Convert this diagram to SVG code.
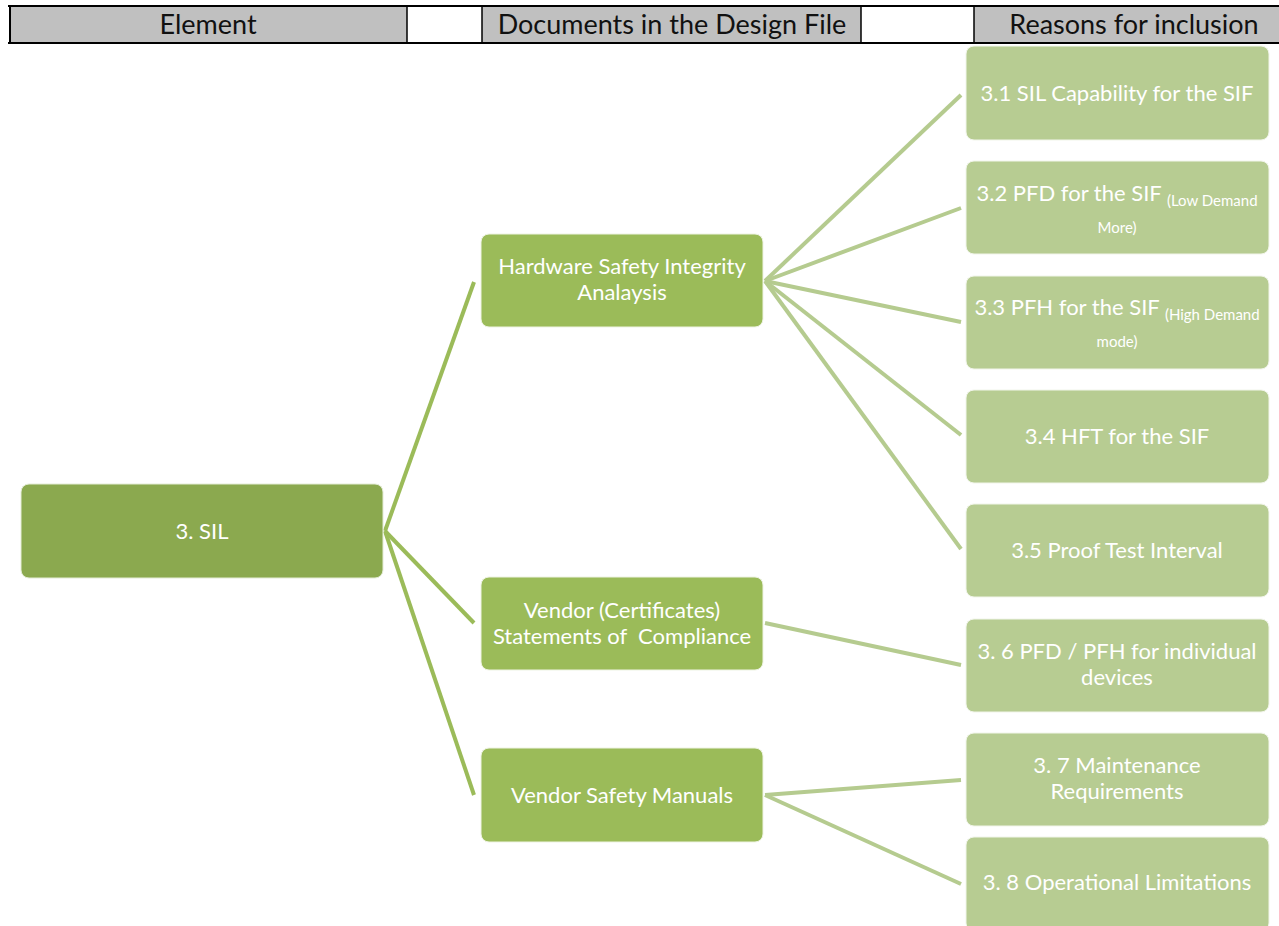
<svg xmlns="http://www.w3.org/2000/svg" width="1279" height="926" viewBox="0 0 1279 926">
<style>
.hdr{fill:#C0C0C0}
.hline{stroke:#000;stroke-width:2}
.vline{stroke:#000;stroke-width:1.5}
.htxt{font-family:Lato,"Liberation Sans",sans-serif;font-size:27px;fill:#111;text-anchor:middle}
.root{fill:#8BA94F;stroke:#E4ECD6;stroke-width:1}
.mid{fill:#9BBB59;stroke:#EEF3E3;stroke-width:1}
.leaf{fill:#B7CC92;stroke:#F1F5EA;stroke-width:1}
.t{font-family:Lato,"Liberation Sans",sans-serif;font-size:22px;fill:#fff;text-anchor:middle}
.s{font-size:15px}
.c1{stroke:#9BBB59;stroke-width:4;fill:none}
.c2{stroke:#B5CB8F;stroke-width:4;fill:none}
</style>
<rect width="1279" height="926" fill="#fff"/>
<g id="header">
<rect class="hdr" x="9" y="6" width="398" height="37"/>
<rect class="hdr" x="482" y="6" width="379" height="37"/>
<rect class="hdr" x="974" y="6" width="305" height="37"/>
<line class="hline" x1="8" y1="6" x2="1279" y2="6"/>
<line class="hline" x1="8" y1="43" x2="1279" y2="43"/>
<line class="hline" x1="10" y1="5" x2="10" y2="44"/>
<line class="vline" x1="407" y1="6" x2="407" y2="43"/>
<line class="vline" x1="482" y1="6" x2="482" y2="43"/>
<line class="vline" x1="861" y1="6" x2="861" y2="43"/>
<line class="vline" x1="974" y1="6" x2="974" y2="43"/>
<text class="htxt" x="208" y="34">Element</text>
<text class="htxt" x="672" y="34">Documents in the Design File</text>
<text class="htxt" x="1134" y="34">Reasons for inclusion</text>
</g>
<g id="connectors">
<line class="c1" x1="385" y1="531" x2="474" y2="282"/>
<line class="c1" x1="385" y1="531" x2="474" y2="623"/>
<line class="c1" x1="385" y1="531" x2="474" y2="795"/>
<line class="c2" x1="765" y1="281" x2="961" y2="95"/>
<line class="c2" x1="765" y1="281" x2="961" y2="208"/>
<line class="c2" x1="765" y1="281" x2="961" y2="322"/>
<line class="c2" x1="765" y1="281" x2="961" y2="435"/>
<line class="c2" x1="765" y1="281" x2="961" y2="549"/>
<line class="c2" x1="765" y1="623" x2="961" y2="665"/>
<line class="c2" x1="765" y1="795" x2="961" y2="780"/>
<line class="c2" x1="765" y1="795" x2="961" y2="884"/>
</g>
<g id="n-sil">
<rect class="root" x="21" y="484" width="362" height="94" rx="8"/>
<text class="t" x="202" y="539">3. SIL</text>
</g>
<g id="n-hsia">
<rect class="mid" x="481" y="234" width="282" height="93" rx="8"/>
<text class="t" x="622" y="274">Hardware Safety Integrity</text>
<text class="t" x="622" y="300">Analaysis</text>
</g>
<g id="n-vcert">
<rect class="mid" x="481" y="577" width="282" height="93" rx="8"/>
<text class="t" x="622" y="618">Vendor (Certificates)</text>
<text class="t" x="622" y="644" xml:space="preserve">Statements of  Compliance</text>
</g>
<g id="n-vsm">
<rect class="mid" x="481" y="748" width="282" height="94" rx="8"/>
<text class="t" x="622" y="803">Vendor Safety Manuals</text>
</g>
<g id="n-31">
<rect class="leaf" x="966" y="46" width="303" height="94" rx="8"/>
<text class="t" x="1117" y="101">3.1 SIL Capability for the SIF</text>
</g>
<g id="n-32">
<rect class="leaf" x="966" y="161" width="303" height="93" rx="8"/>
<text class="t" x="1117" y="201">3.2 PFD for the SIF <tspan class="s" dy="5">(Low Demand</tspan></text>
<text class="t s" x="1117" y="233">More)</text>
</g>
<g id="n-33">
<rect class="leaf" x="966" y="276" width="303" height="93" rx="8"/>
<text class="t" x="1117" y="315">3.3 PFH for the SIF <tspan class="s" dy="5">(High Demand</tspan></text>
<text class="t s" x="1117" y="347">mode)</text>
</g>
<g id="n-34">
<rect class="leaf" x="966" y="390" width="303" height="93" rx="8"/>
<text class="t" x="1117" y="444">3.4 HFT for the SIF</text>
</g>
<g id="n-35">
<rect class="leaf" x="966" y="504" width="303" height="93" rx="8"/>
<text class="t" x="1117" y="558">3.5 Proof Test Interval</text>
</g>
<g id="n-36">
<rect class="leaf" x="966" y="619" width="303" height="93" rx="8"/>
<text class="t" x="1117" y="659">3. 6 PFD / PFH for individual</text>
<text class="t" x="1117" y="685">devices</text>
</g>
<g id="n-37">
<rect class="leaf" x="966" y="733" width="303" height="93" rx="8"/>
<text class="t" x="1117" y="773">3. 7 Maintenance</text>
<text class="t" x="1117" y="799">Requirements</text>
</g>
<g id="n-38">
<rect class="leaf" x="966" y="837" width="303" height="94" rx="8"/>
<text class="t" x="1117" y="890">3. 8 Operational Limitations</text>
</g>
</svg>
